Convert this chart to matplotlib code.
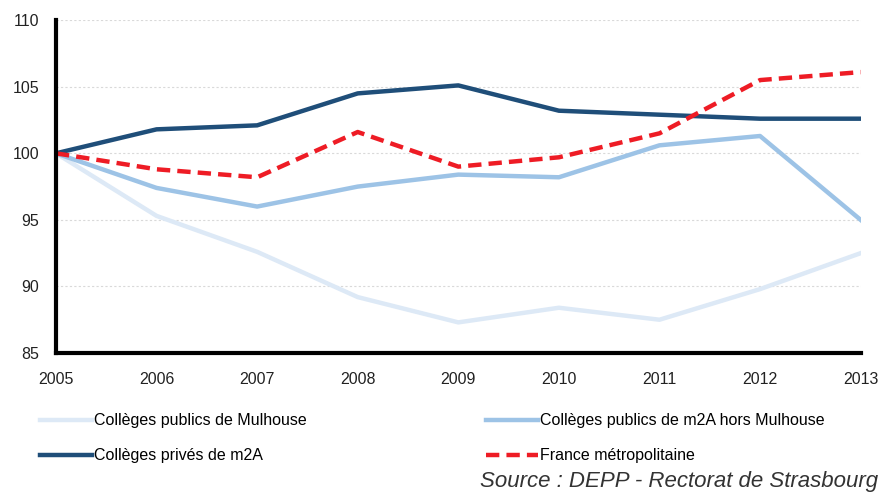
import matplotlib
matplotlib.use("Agg")
import matplotlib.pyplot as plt

# Data (index base 100 in 2005)
years = [2005, 2006, 2007, 2008, 2009, 2010, 2011, 2012, 2013]
publics_mulhouse = [100, 95.3, 92.6, 89.2, 87.3, 88.4, 87.5, 89.8, 92.5]
publics_m2a_hors = [100, 97.4, 96.0, 97.5, 98.4, 98.2, 100.6, 101.3, 95.0]
prives_m2a = [100, 101.8, 102.1, 104.5, 105.1, 103.2, 102.9, 102.6, 102.6]
france_metro = [100, 98.8, 98.2, 101.6, 99.0, 99.7, 101.5, 105.5, 106.1]

plt.rcParams["font.family"] = ["Liberation Sans Narrow", "Liberation Sans", "DejaVu Sans"]

fig = plt.figure(figsize=(8.8, 4.92), dpi=100)
ax = fig.add_axes([0.0636, 0.2825, 0.9144, 0.6765])

l1, = ax.plot(years, publics_mulhouse, color="#dde9f6", lw=3.2, label="Collèges publics de Mulhouse")
l2, = ax.plot(years, publics_m2a_hors, color="#9dc3e6", lw=3.2, label="Collèges publics de m2A hors Mulhouse")
l3, = ax.plot(years, prives_m2a, color="#1f4e79", lw=3.2, label="Collèges privés de m2A")
l4, = ax.plot(years, france_metro, color="#ee1c25", lw=3.2, ls=(0, (3, 1.6)), label="France métropolitaine")

ax.set_xlim(2005, 2013)
ax.set_ylim(85, 110)
ax.set_xticks(years)
ax.set_yticks([85, 90, 95, 100, 105, 110])
ax.grid(axis="y", color="#d9d9d9", ls=(0, (2, 2)), lw=0.8)
ax.set_axisbelow(True)
for s in ["top", "right"]:
    ax.spines[s].set_visible(False)
for s in ["left", "bottom"]:
    ax.spines[s].set_linewidth(3)
    ax.spines[s].set_color("black")
ax.tick_params(length=0, labelsize=11.5, colors="#222222")
ax.tick_params(axis="x", pad=14)
ax.tick_params(axis="y", pad=12)

fig.legend(
    handles=[l1, l3, l2, l4],
    loc="upper left",
    bbox_to_anchor=(0.045, 0.16),
    ncol=2,
    frameon=False,
    fontsize=11.5,
    handlelength=3.3,
    handletextpad=0.1,
    columnspacing=11.2,
    labelspacing=1.25,
    borderaxespad=0,
    borderpad=0,
)

fig.text(0.998, 0.0, "Source : DEPP - Rectorat de Strasbourg", ha="right", va="bottom",
         fontsize=16, style="italic", color="#333333")

fig.savefig("out.png", dpi=100)
